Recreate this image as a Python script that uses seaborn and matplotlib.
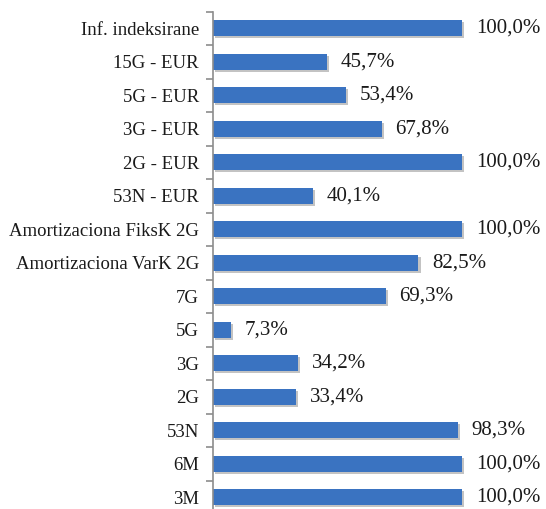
import seaborn as sns
import matplotlib.pyplot as plt
import matplotlib.patheffects as pe
import pandas as pd


# Podaci

kategorije = ["Inf. indeksirane", "15G - EUR", "5G - EUR", "3G - EUR", "2G - EUR",
              "53N - EUR", "Amortizaciona FiksK 2G", "Amortizaciona VarK 2G",
              "7G", "5G", "3G", "2G", "53N", "6M", "3M"]
vrijednosti = [100.0, 45.7, 53.4, 67.8, 100.0, 40.1, 100.0, 82.5,
               69.3, 7.3, 34.2, 33.4, 98.3, 100.0, 100.0]

df = pd.DataFrame({"Kategorija": kategorije, "Vrijednost": vrijednosti})


# Stil

sns.set_theme(style="white")
plt.rcParams["font.family"] = ["Liberation Serif", "DejaVu Serif"]

fig = plt.figure(figsize=(5.46, 5.09), dpi=100)
ax = fig.add_axes([213 / 546, -5 / 509, 333 / 546, 502.5 / 509])

sns.barplot(data=df, y="Kategorija", x="Vrijednost", order=kategorije,
            color="#3a73c1", saturation=1, width=0.47, orient="h",
            edgecolor="none", linewidth=0, ax=ax)

for bar in ax.patches:
    bar.set_path_effects([pe.SimplePatchShadow(offset=(1.5, -1.5), shadow_rgbFace="#555555", alpha=0.35),
                          pe.Normal()])

# Oznake vrijednosti
for i, v in enumerate(vrijednosti):
    ax.text(v + 5.5, i, f"{v:.1f}%".replace(".", ","), va="center", ha="left",
            fontsize=15, color="#1a1a1a", clip_on=False)

ax.set_xlim(0, 133.7)
ax.set_ylim(len(kategorije) - 0.5, -0.5)
ax.set_xlabel("")
ax.set_ylabel("")
ax.set_xticks([])

for s in ["top", "right", "bottom"]:
    ax.spines[s].set_visible(False)
ax.spines["left"].set_color("#8c8c8c")
ax.spines["left"].set_linewidth(1.2)

ax.set_yticks([i - 0.5 for i in range(len(kategorije) + 1)], minor=True)
ax.tick_params(axis="y", which="minor", length=5, width=1.2, color="#8c8c8c", left=True)
ax.tick_params(axis="y", which="major", length=0, pad=10, labelsize=13.5, labelcolor="#1a1a1a")

fig.savefig("out.png", dpi=100)
